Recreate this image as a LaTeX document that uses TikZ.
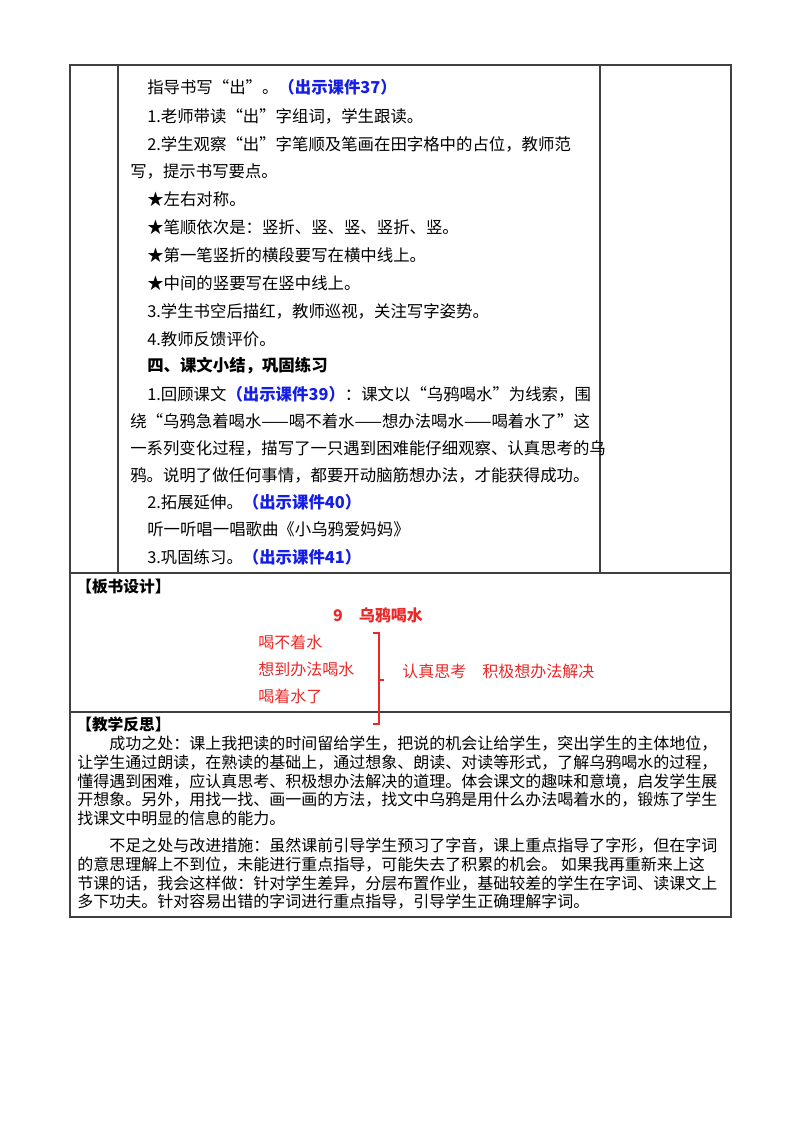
\documentclass[tikz,border=0pt]{standalone}
\usepackage{fontspec}
\setmainfont{Noto Sans CJK SC}
\definecolor{kblue}{RGB}{20,30,230}
\definecolor{kred}{RGB}{235,40,40}
\begin{document}
\begin{tikzpicture}[x=0.75pt,y=-0.75pt,
  grid/.style={draw=black!75,line width=0.8pt},
  body/.style={anchor=west,inner sep=0pt,font=\fontsize{12.3pt}{14pt}\selectfont},
  hdr/.style={anchor=west,inner sep=0pt,font=\fontsize{11.8pt}{13pt}\selectfont\bfseries},
  refl/.style={anchor=west,inner sep=0pt,font=\fontsize{12pt}{14pt}\selectfont},
  rd/.style={anchor=west,inner sep=0pt,text=kred,font=\fontsize{12pt}{14pt}\selectfont}]
\useasboundingbox (0,0) rectangle (800,1132);
\fill[white] (0,0) rectangle (800,1132);
% grid
\draw[grid] (70,65) rectangle (731,917);
\draw[grid] (70,573) -- (731,573);
\draw[grid] (70,712) -- (731,712);
\draw[grid] (118,65) -- (118,573);
\draw[grid] (600,65) -- (600,573);
% column text
\newcommand{\kj}[1]{{\color{kblue}\bfseries #1}}
\node[body] (l1) at (147,87) {指导书写“出”。\kj{（出示课件37）}};
\node[body] (l2) at (147,116) {1.老师带读“出”字组词，学生跟读。};
\node[body] (l3) at (147,144) {2.学生观察“出”字笔顺及笔画在田字格中的占位，教师范};
\node[body] (l4) at (130,171) {写，提示书写要点。};
\node[body] (l5) at (147,199) {★左右对称。};
\node[body] (l6) at (147,227) {★笔顺依次是：竖折、竖、竖、竖折、竖。};
\node[body] (l7) at (147,255) {★第一笔竖折的横段要写在横中线上。};
\node[body] (l8) at (147,283) {★中间的竖要写在竖中线上。};
\node[body] (l9) at (147,311) {3.学生书空后描红，教师巡视，关注写字姿势。};
\node[body] (l10) at (147,339) {4.教师反馈评价。};
\node[body,font=\fontsize{12.3pt}{14pt}\selectfont\bfseries] (l11) at (147,366) {四、课文小结，巩固练习};
\node[body] (l12) at (147,394) {1.回顾课文\kj{（出示课件39）}：课文以“乌鸦喝水”为线索，围};
\node[body] (l13) at (130,421) {绕“乌鸦急着喝水——喝不着水——想办法喝水——喝着水了”这};
\node[body] (l14) at (130,448) {一系列变化过程，描写了一只遇到困难能仔细观察、认真思考的乌};
\node[body] (l15) at (130,475) {鸦。说明了做任何事情，都要开动脑筋想办法，才能获得成功。};
\node[body] (l16) at (147,502) {2.拓展延伸。\kj{（出示课件40）}};
\node[body] (l17) at (147,529) {听一听唱一唱歌曲《小乌鸦爱妈妈》};
\node[body] (l18) at (147,557) {3.巩固练习。\kj{（出示课件41）}};
% board
\node[hdr] (bs) at (76,587) {【板书设计】};
\node[inner sep=0pt,text=kred,font=\fontsize{12pt}{14pt}\selectfont\bfseries] (tt) at (378,615) {9\quad 乌鸦喝水};
\node[rd] (b1) at (258,642) {喝不着水};
\node[rd] (b2) at (258,669) {想到办法喝水};
\node[rd] (b3) at (258,696) {喝着水了};
\coordinate (bt) at (373,633);
\draw[kred,line width=0.8pt] (bt) -- ++(6,0) -- ++(0,91) -- ++(-6,0);
\draw[kred,line width=0.8pt] (379,680) -- ++(5,0);
\node[rd] (b4) at (402,671) {认真思考\quad 积极想办法解决};
% reflection
\node[hdr] (rf) at (76,724) {【教学反思】};
\node[refl] (r1) at (109,744) {成功之处：课上我把读的时间留给学生，把说的机会让给学生，突出学生的主体地位，};
\node[refl] (r2) at (77,762.6) {让学生通过朗读，在熟读的基础上，通过想象、朗读、对读等形式，了解乌鸦喝水的过程，};
\node[refl] (r3) at (77,781.2) {懂得遇到困难，应认真思考、积极想办法解决的道理。体会课文的趣味和意境，启发学生展};
\node[refl] (r4) at (77,799.8) {开想象。另外，用找一找、画一画的方法，找文中乌鸦是用什么办法喝着水的，锻炼了学生};
\node[refl] (r5) at (77,818.4) {找课文中明显的信息的能力。};
\node[refl] (r6) at (109,846) {不足之处与改进措施：虽然课前引导学生预习了字音，课上重点指导了字形，但在字词};
\node[refl] (r7) at (77,864.6) {的意思理解上不到位，未能进行重点指导，可能失去了积累的机会。\ 如果我再重新来上这};
\node[refl] (r8) at (77,883.2) {节课的话，我会这样做：针对学生差异，分层布置作业，基础较差的学生在字词、读课文上};
\node[refl] (r9) at (77,901.8) {多下功夫。针对容易出错的字词进行重点指导，引导学生正确理解字词。};
\end{tikzpicture}
\end{document}
